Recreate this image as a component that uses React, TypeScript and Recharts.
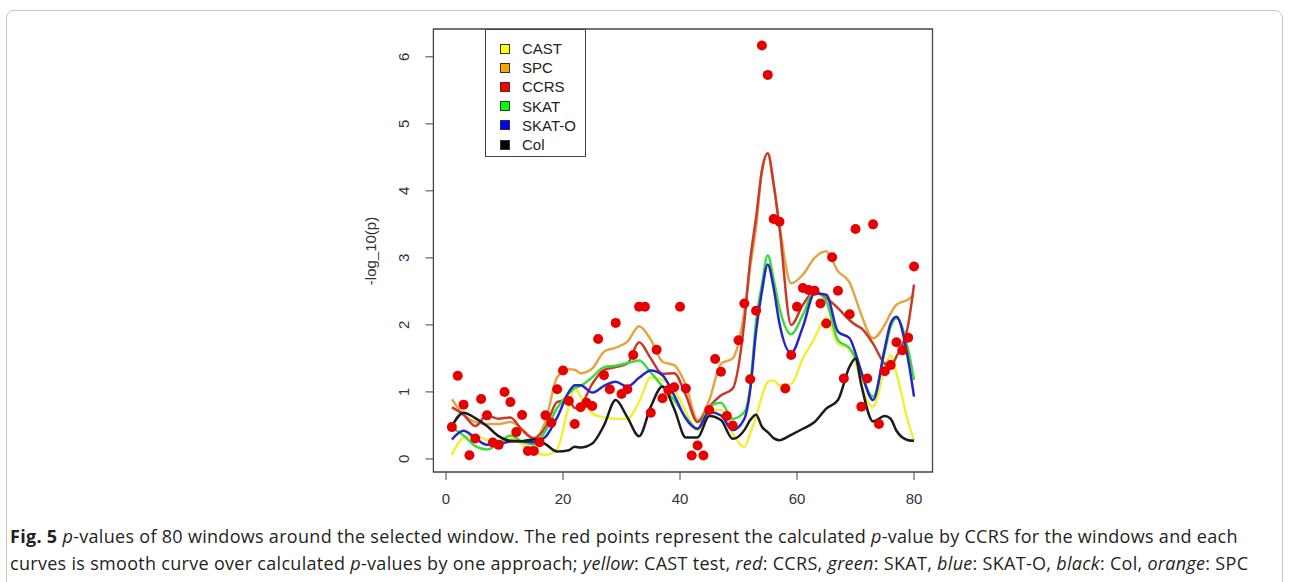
import React from 'react';
import { ComposedChart, Line, Scatter, XAxis, YAxis, ReferenceArea, Legend } from 'recharts';

const curveWindows = [1, 3, 5, 7, 9, 11, 13, 15, 17, 19, 21, 22, 23, 25, 27, 29, 31, 33, 35, 37, 39, 41, 43, 45, 47, 49, 51, 52, 53, 54, 55, 56, 57, 59, 61, 63, 65, 67, 69, 70, 71, 73, 75, 76, 77, 79, 80];

const castCurve = [0.06, 0.32, 0.35, 0.28, 0.25, 0.3, 0.22, 0.12, 0.06, 0.15, 0.8, 1.07, 0.93, 0.68, 0.62, 0.6, 0.6, 0.85, 1.22, 1.18, 1.04, 0.7, 0.43, 0.7, 0.73, 0.38, 0.18, 0.38, 0.63, 0.93, 1.15, 1.17, 1.1, 1.12, 1.5, 1.8, 2.1, 1.72, 1.64, 1.45, 1.1, 0.78, 1.35, 1.55, 1.28, 0.55, 0.28];
const spcCurve = [0.89, 0.66, 0.55, 0.52, 0.52, 0.55, 0.45, 0.3, 0.56, 1.22, 1.34, 1.33, 1.28, 1.35, 1.6, 1.66, 1.75, 1.98, 1.78, 1.45, 1.4, 1.1, 0.58, 0.88, 1.42, 1.5, 2.2, 2.87, 3.45, 4.3, 4.56, 4.1, 3.5, 2.62, 2.75, 3.0, 3.1, 2.8, 2.63, 2.4, 2.15, 1.8, 2.0, 2.17, 2.3, 2.38, 2.45];
const ccrsCurve = [0.77, 0.66, 0.49, 0.65, 0.6, 0.62, 0.43, 0.31, 0.47, 0.85, 0.88, 0.76, 0.8, 1.12, 1.33, 1.37, 1.42, 1.74, 1.5, 1.27, 1.28, 0.95, 0.55, 0.78, 0.95, 1.05, 2.05, 2.97, 3.6, 4.3, 4.56, 4.1, 3.45, 2.0, 2.3, 2.5, 2.4, 2.25, 2.07, 2.0, 1.95, 1.72, 1.42, 1.38, 1.53, 2.0, 2.6];
const skatCurve = [0.465, 0.35, 0.19, 0.14, 0.23, 0.35, 0.26, 0.215, 0.42, 0.76, 0.98, 1.06, 1.09, 1.22, 1.37, 1.39, 1.43, 1.47, 1.29, 1.08, 0.88, 0.62, 0.45, 0.78, 0.84, 0.6, 0.7, 1.08, 2.05, 2.6, 3.04, 2.68, 2.25, 1.86, 2.15, 2.5, 2.35, 1.77, 1.65, 1.5, 1.25, 0.93, 1.6, 1.97, 2.1, 1.63, 1.18];
const skatoCurve = [0.29, 0.42, 0.31, 0.21, 0.22, 0.26, 0.265, 0.25, 0.33, 0.62, 1.0, 1.1, 1.1, 0.99, 1.09, 1.15, 1.08, 1.21, 1.32, 1.25, 0.95, 0.6, 0.45, 0.7, 0.65, 0.43, 0.6, 1.03, 1.9, 2.5, 2.9, 2.55, 2.02, 1.58, 1.97, 2.47, 2.45, 1.9, 1.8, 1.58, 1.3, 0.88, 1.65, 2.02, 2.12, 1.48, 0.93];
const colCurve = [0.49, 0.69, 0.61, 0.49, 0.34, 0.27, 0.265, 0.29, 0.22, 0.11, 0.13, 0.18, 0.17, 0.23, 0.5, 0.88, 0.62, 0.34, 0.78, 1.08, 0.75, 0.32, 0.32, 0.64, 0.58, 0.3, 0.43, 0.58, 0.66, 0.48, 0.4, 0.31, 0.28, 0.36, 0.45, 0.55, 0.75, 0.88, 1.38, 1.5, 1.1, 0.56, 0.64, 0.6, 0.42, 0.28, 0.27];

// CCRS -log10(p) of each window
const pointWindows = [1, 2, 3, 4, 5, 6, 7, 8, 9, 10, 11, 12, 13, 14, 15, 16, 17, 18, 19, 20, 21, 22, 23, 24, 25, 26, 27, 28, 29, 30, 31, 32, 33, 34, 35, 36, 37, 38, 39, 40, 41, 42, 43, 44, 45, 46, 47, 48, 49, 50, 51, 52, 53, 54, 55, 56, 57, 58, 59, 60, 61, 62, 63, 64, 65, 66, 67, 68, 69, 70, 71, 72, 73, 74, 75, 76, 77, 78, 79, 80];
const ccrsPoints = [0.475, 1.24, 0.81, 0.055, 0.305, 0.895, 0.65, 0.245, 0.21, 1.0, 0.85, 0.4, 0.655, 0.12, 0.12, 0.25, 0.65, 0.54, 1.04, 1.32, 0.865, 0.52, 0.77, 0.84, 0.79, 1.79, 1.25, 1.04, 2.03, 0.97, 1.04, 1.55, 2.27, 2.27, 0.69, 1.63, 0.905, 1.03, 1.07, 2.27, 1.05, 0.05, 0.2, 0.05, 0.73, 1.49, 1.3, 0.64, 0.5, 1.77, 2.32, 1.19, 2.21, 6.17, 5.73, 3.58, 3.54, 1.05, 1.55, 2.27, 2.55, 2.52, 2.51, 2.32, 2.02, 3.01, 2.51, 1.2, 2.16, 3.43, 0.78, 1.2, 3.5, 0.52, 1.31, 1.4, 1.74, 1.62, 1.81, 2.87];

const xTicks = [0, 20, 40, 60, 80];
const yTicks = [0, 1, 2, 3, 4, 5, 6];

const seriesNames = ['CAST', 'SPC', 'CCRS', 'SKAT', 'SKAT-O', 'Col'];
const swatchColors = ['#ffff00', '#ffa500', '#ff0000', '#00ff00', '#0000ff', '#000000'];
const lineColors = ['#f2ef3a', '#e2a646', '#c83a2a', '#3fd93f', '#2626c4', '#1c1c1c'];
const curveValues = [castCurve, spcCurve, ccrsCurve, skatCurve, skatoCurve, colCurve];

const curveRows = curveWindows.map((w, i) => {
  const row: Record<string, number> = { w };
  seriesNames.forEach((n, k) => { row[n] = curveValues[k][i]; });
  return row;
});
const pointRows = pointWindows.map((w, i) => ({ w, p: ccrsPoints[i] }));

const axisFont = '"Liberation Sans", Arial, sans-serif';

const YTick = ({ x, y, payload }: any) => (
  <text x={x} y={y} transform={`rotate(-90 ${x} ${y})`} textAnchor="middle" fontSize={15} fontFamily={axisFont} fill="#333">
    {payload.value}
  </text>
);

const LegendBox = () => (
  <div style={{ border: '1px solid #444', background: '#fff', width: 101, height: 128, boxSizing: 'border-box', paddingTop: 9 }}>
    {seriesNames.map((n, i) => (
      <div key={n} style={{ display: 'flex', alignItems: 'center', height: 19.2 }}>
        <span style={{ display: 'inline-block', boxSizing: 'border-box', width: 10, height: 10, background: swatchColors[i], border: '1px solid #333', marginLeft: 14, marginRight: 12 }} />
        <span style={{ fontFamily: axisFont, fontSize: 15, color: '#222', lineHeight: '15px' }}>{n}</span>
      </div>
    ))}
  </div>
);

const Dot = (props: any) => <circle cx={props.cx} cy={props.cy} r={5} fill="#e60000" />;

export default function App() {
  return (
    <div style={{ position: 'absolute', left: 0, top: 0, width: 1289, height: 582, overflow: 'hidden', background: '#fff' }}>
      <div style={{ position: 'absolute', left: 6, top: 10, width: 1277, height: 600, border: '1px solid #c4c4c4', borderRadius: 8, boxSizing: 'border-box' }} />
      <div style={{ position: 'absolute', left: 0, top: 0 }}>
        <ComposedChart width={1289} height={520} data={curveRows} margin={{ top: 29, right: 356.5, left: 373.4, bottom: 8 }}>
          <XAxis dataKey="w" type="number" domain={[-2.16, 83.16]} allowDataOverflow ticks={xTicks} axisLine={false}
            tickSize={8} tickMargin={13} height={40} tick={{ fontSize: 15, fontFamily: axisFont, fill: '#333' }} tickLine={{ stroke: '#444' }} />
          <YAxis type="number" domain={[-0.195, 6.415]} allowDataOverflow ticks={yTicks} axisLine={false} width={60}
            tickSize={8} tickMargin={16} tick={<YTick />} tickLine={{ stroke: '#444' }}
            label={() => (
              <text x={376} y={251} transform="rotate(-90 376 251)" textAnchor="middle" fontSize={15} fontFamily={axisFont} fill="#333">-log_10(p)</text>
            )} />
          <ReferenceArea x1={-2.16} x2={83.16} y1={-0.195} y2={6.415} fill="none" stroke="#444" strokeWidth={1.3} />
          {seriesNames.map((n, k) => (
            <Line key={n} dataKey={n} type="monotone" stroke={lineColors[k]} strokeWidth={2.5} dot={false} activeDot={false} isAnimationActive={false} />
          ))}
          <Scatter data={pointRows} dataKey="p" shape={<Dot />} isAnimationActive={false} />
          <Legend layout="vertical" align="center" verticalAlign="middle" content={<LegendBox />} wrapperStyle={{ left: 485, top: 29, width: 101 }} />
        </ComposedChart>
      </div>
      <div style={{ position: 'absolute', left: 10, top: 523, fontFamily: '"Open Sans", sans-serif', fontSize: 18, letterSpacing: 0.3, lineHeight: '27px', color: '#231f20', whiteSpace: 'nowrap' }}>
        <div><b>Fig. 5</b> <i>p</i>-values of 80 windows around the selected window. The red points represent the calculated <i>p</i>-value by CCRS for the windows and each</div>
        <div>curves is smooth curve over calculated <i>p</i>-values by one approach; <i>yellow</i>: CAST test, <i>red</i>: CCRS, <i>green</i>: SKAT, <i>blue</i>: SKAT-O, <i>black</i>: Col, <i>orange</i>: SPC</div>
      </div>
    </div>
  );
}
